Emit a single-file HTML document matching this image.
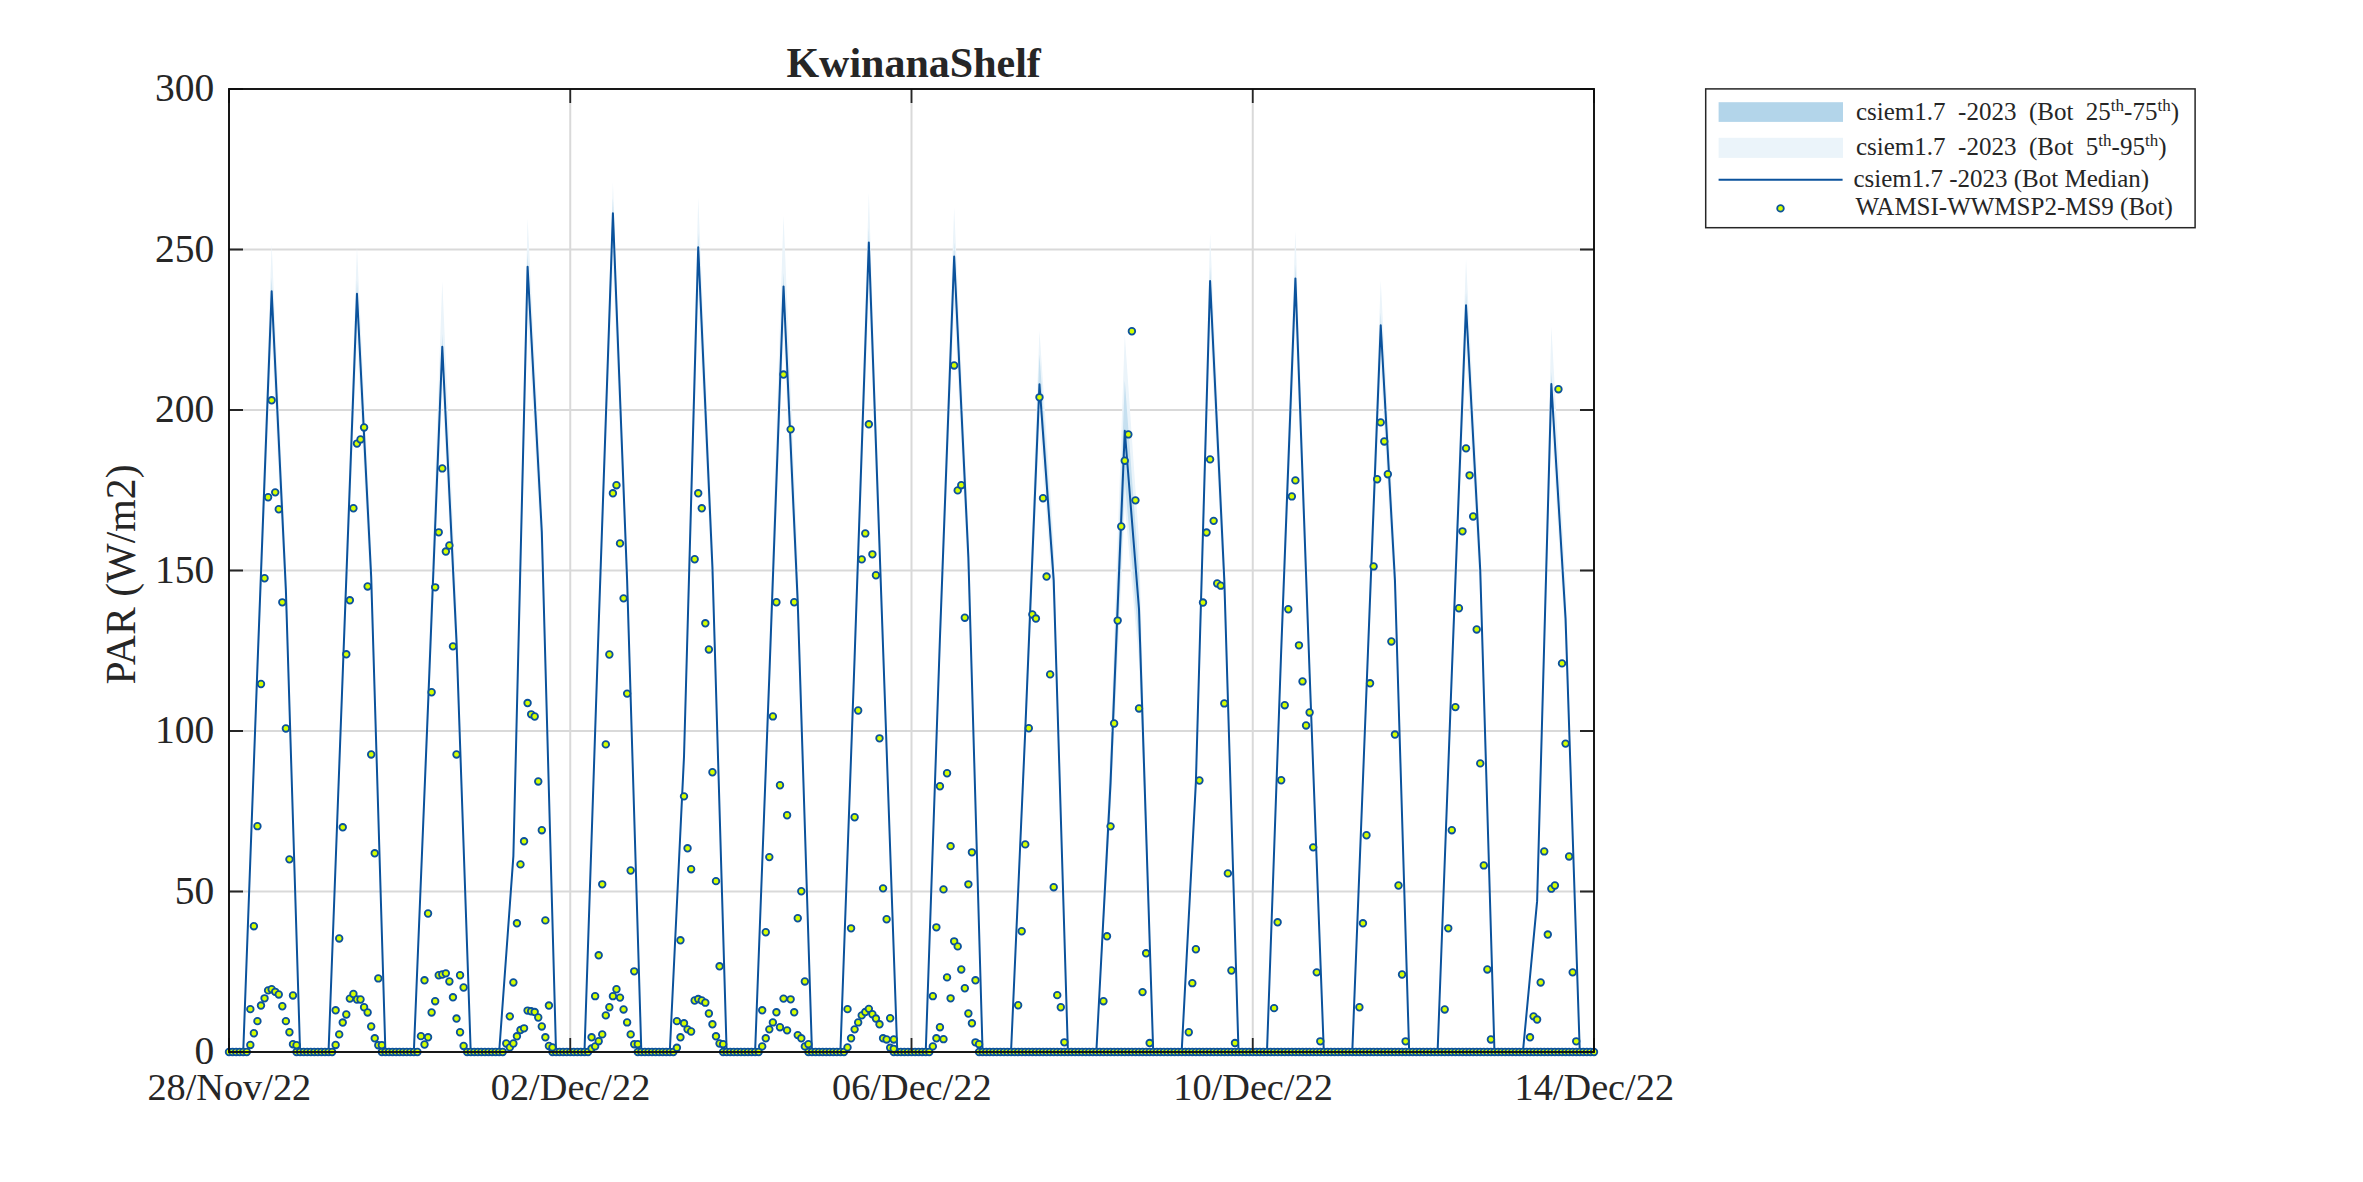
<!DOCTYPE html><html><head><meta charset="utf-8"><title>KwinanaShelf</title><style>html,body{margin:0;padding:0;background:#fff;width:2363px;height:1182px;overflow:hidden}svg{display:block}</style></head><body><svg width="2363" height="1182" viewBox="0 0 2363 1182">
<rect x="0" y="0" width="2363" height="1182" fill="#ffffff"/>
<path d="M229.0 891.50H1594.0M229.0 731.00H1594.0M229.0 570.50H1594.0M229.0 410.00H1594.0M229.0 249.50H1594.0M570.25 89.0V1052.0M911.50 89.0V1052.0M1252.75 89.0V1052.0" stroke="#d9d9d9" stroke-width="2" fill="none"/>
<polygon points="229.00,1052.00 243.22,1052.00 257.44,642.92 271.66,244.06 285.88,561.10 300.09,1052.00 314.31,1052.00 328.53,1052.00 342.75,649.74 356.97,246.79 371.19,547.47 385.41,1052.00 399.62,1052.00 413.84,1052.00 428.06,673.08 442.28,281.18 456.50,602.91 470.72,1052.00 484.94,1052.00 499.16,1052.00 513.38,844.05 527.59,218.15 541.81,499.74 556.03,1052.00 570.25,1052.00 584.47,1052.00 598.69,609.19 612.91,182.02 627.12,562.58 641.34,1052.00 655.56,1052.00 669.78,1052.00 684.00,738.37 698.22,197.36 712.44,537.24 726.66,1052.00 740.88,1052.00 755.09,1052.00 769.31,641.50 783.53,215.22 797.75,560.81 811.97,1052.00 826.19,1052.00 840.41,1052.00 854.62,632.69 868.84,192.25 883.06,622.46 897.28,1052.00 911.50,1052.00 925.72,1052.00 939.94,612.24 954.16,207.24 968.38,527.01 982.59,1052.00 996.81,1052.00 1011.03,1052.00 1025.25,705.13 1039.47,330.50 1053.69,542.10 1067.91,1052.00 1082.12,1052.00 1096.34,1052.00 1110.56,740.57 1124.78,334.59 1139.00,540.36 1153.22,1052.00 1167.44,1052.00 1181.66,1052.00 1195.88,765.64 1210.09,233.15 1224.31,550.87 1238.53,1052.00 1252.75,1052.00 1266.97,1052.00 1281.19,625.87 1295.41,230.43 1309.62,649.74 1323.84,1052.00 1338.06,1052.00 1352.28,1052.00 1366.50,666.78 1380.72,280.20 1394.94,550.87 1409.16,1052.00 1423.38,1052.00 1437.59,1052.00 1451.81,649.74 1466.03,259.06 1480.25,540.65 1494.47,1052.00 1508.69,1052.00 1522.91,1052.00 1537.12,888.03 1551.34,326.02 1565.56,581.04 1579.78,1052.00 1594.00,1052.00 1594.00,1052.00 1579.78,1052.00 1565.56,644.65 1551.34,424.08 1537.12,910.18 1522.91,1052.00 1508.69,1052.00 1494.47,1052.00 1480.25,599.39 1466.03,350.15 1451.81,695.95 1437.59,1052.00 1423.38,1052.00 1409.16,1052.00 1394.94,608.44 1380.72,368.86 1366.50,711.03 1352.28,1052.00 1338.06,1052.00 1323.84,1052.00 1309.62,695.95 1295.41,324.81 1281.19,674.83 1266.97,1052.00 1252.75,1052.00 1238.53,1052.00 1224.31,608.44 1210.09,327.22 1195.88,798.54 1181.66,1052.00 1167.44,1052.00 1153.22,1052.00 1139.00,662.18 1124.78,505.40 1110.56,814.72 1096.34,1052.00 1082.12,1052.00 1067.91,1052.00 1053.69,608.44 1039.47,424.38 1025.25,750.26 1011.03,1052.00 996.81,1052.00 982.59,1052.00 968.38,587.32 954.16,304.29 939.94,662.76 925.72,1052.00 911.50,1052.00 897.28,1052.00 883.06,671.81 868.84,291.01 854.62,680.86 840.41,1052.00 826.19,1052.00 811.97,1052.00 797.75,629.56 783.53,332.35 769.31,698.96 755.09,1052.00 740.88,1052.00 726.66,1052.00 712.44,596.37 698.22,295.54 684.00,774.40 669.78,1052.00 655.56,1052.00 641.34,1052.00 627.12,608.44 612.91,263.55 598.69,650.69 584.47,1052.00 570.25,1052.00 556.03,1052.00 541.81,563.18 527.59,313.94 513.38,867.94 499.16,1052.00 484.94,1052.00 470.72,1052.00 456.50,665.77 442.28,389.08 428.06,726.12 413.84,1052.00 399.62,1052.00 385.41,1052.00 371.19,605.42 356.97,339.29 342.75,695.95 328.53,1052.00 314.31,1052.00 300.09,1052.00 285.88,617.49 271.66,336.88 257.44,689.91 243.22,1052.00 229.00,1052.00" fill="#ebf4fa" stroke="none"/>
<polygon points="229.00,1052.00 243.22,1052.00 257.44,659.87 271.66,277.54 285.88,581.44 300.09,1052.00 314.31,1052.00 328.53,1052.00 342.75,666.40 356.97,280.15 371.19,568.37 385.41,1052.00 399.62,1052.00 413.84,1052.00 428.06,699.08 442.28,334.07 456.50,633.72 470.72,1052.00 484.94,1052.00 499.16,1052.00 513.38,852.67 527.59,252.70 541.81,522.62 556.03,1052.00 570.25,1052.00 584.47,1052.00 598.69,617.39 612.91,198.13 627.12,571.64 641.34,1052.00 655.56,1052.00 669.78,1052.00 684.00,751.36 698.22,232.77 712.44,558.57 726.66,1052.00 740.88,1052.00 755.09,1052.00 769.31,669.67 783.53,272.63 797.75,594.51 811.97,1052.00 826.19,1052.00 840.41,1052.00 854.62,650.06 868.84,227.87 883.06,640.26 897.28,1052.00 911.50,1052.00 925.72,1052.00 939.94,630.46 954.16,242.24 968.38,548.76 982.59,1052.00 996.81,1052.00 1011.03,1052.00 1025.25,716.56 1039.47,354.27 1053.69,558.90 1067.91,1052.00 1082.12,1052.00 1096.34,1052.00 1110.56,760.52 1124.78,380.55 1139.00,573.14 1153.22,1052.00 1167.44,1052.00 1181.66,1052.00 1195.88,777.51 1210.09,267.08 1224.31,571.64 1238.53,1052.00 1252.75,1052.00 1266.97,1052.00 1281.19,643.53 1295.41,264.47 1309.62,666.40 1323.84,1052.00 1338.06,1052.00 1352.28,1052.00 1366.50,682.74 1380.72,312.17 1394.94,571.64 1409.16,1052.00 1423.38,1052.00 1437.59,1052.00 1451.81,666.40 1466.03,291.91 1480.25,561.83 1494.47,1052.00 1508.69,1052.00 1522.91,1052.00 1537.12,898.41 1551.34,371.97 1565.56,610.85 1579.78,1052.00 1594.00,1052.00 1594.00,1052.00 1579.78,1052.00 1565.56,627.32 1551.34,397.36 1537.12,904.15 1522.91,1052.00 1508.69,1052.00 1494.47,1052.00 1480.25,580.13 1466.03,320.29 1451.81,680.80 1437.59,1052.00 1423.38,1052.00 1409.16,1052.00 1394.94,589.57 1380.72,339.79 1366.50,696.52 1352.28,1052.00 1338.06,1052.00 1323.84,1052.00 1309.62,680.80 1295.41,293.86 1281.19,658.77 1266.97,1052.00 1252.75,1052.00 1238.53,1052.00 1224.31,589.57 1210.09,296.38 1195.88,787.75 1181.66,1052.00 1167.44,1052.00 1153.22,1052.00 1139.00,644.46 1124.78,480.56 1110.56,803.93 1096.34,1052.00 1082.12,1052.00 1067.91,1052.00 1053.69,589.57 1039.47,397.67 1025.25,737.42 1011.03,1052.00 996.81,1052.00 982.59,1052.00 968.38,567.55 954.16,272.47 939.94,646.19 925.72,1052.00 911.50,1052.00 897.28,1052.00 883.06,655.63 868.84,258.63 854.62,665.07 840.41,1052.00 826.19,1052.00 811.97,1052.00 797.75,611.59 783.53,301.73 769.31,683.94 755.09,1052.00 740.88,1052.00 726.66,1052.00 712.44,576.98 698.22,263.35 684.00,762.59 669.78,1052.00 655.56,1052.00 641.34,1052.00 627.12,589.57 612.91,230.00 598.69,633.61 584.47,1052.00 570.25,1052.00 556.03,1052.00 541.81,542.38 527.59,282.54 513.38,860.11 499.16,1052.00 484.94,1052.00 470.72,1052.00 456.50,649.34 442.28,360.87 428.06,712.25 413.84,1052.00 399.62,1052.00 385.41,1052.00 371.19,586.42 356.97,308.96 342.75,680.80 328.53,1052.00 314.31,1052.00 300.09,1052.00 285.88,599.00 271.66,306.45 257.44,674.50 243.22,1052.00 229.00,1052.00" fill="#c6e0f0" stroke="none"/>
<polyline points="229.00,1052.00 243.22,1052.00 257.44,666.80 271.66,291.23 285.88,589.76 300.09,1052.00 314.31,1052.00 328.53,1052.00 342.75,673.22 356.97,293.80 371.19,576.92 385.41,1052.00 399.62,1052.00 413.84,1052.00 428.06,705.32 442.28,346.76 456.50,641.12 470.72,1052.00 484.94,1052.00 499.16,1052.00 513.38,856.19 527.59,266.83 541.81,531.98 556.03,1052.00 570.25,1052.00 584.47,1052.00 598.69,625.07 612.91,213.23 627.12,580.13 641.34,1052.00 655.56,1052.00 669.78,1052.00 684.00,756.68 698.22,247.25 712.44,567.29 726.66,1052.00 740.88,1052.00 755.09,1052.00 769.31,676.43 783.53,286.41 797.75,602.60 811.97,1052.00 826.19,1052.00 840.41,1052.00 854.62,657.17 868.84,242.44 883.06,647.54 897.28,1052.00 911.50,1052.00 925.72,1052.00 939.94,637.91 954.16,256.56 968.38,557.66 982.59,1052.00 996.81,1052.00 1011.03,1052.00 1025.25,731.00 1039.47,384.32 1053.69,580.13 1067.91,1052.00 1082.12,1052.00 1096.34,1052.00 1110.56,782.36 1124.78,430.87 1139.00,609.02 1153.22,1052.00 1167.44,1052.00 1181.66,1052.00 1195.88,782.36 1210.09,280.96 1224.31,580.13 1238.53,1052.00 1252.75,1052.00 1266.97,1052.00 1281.19,650.75 1295.41,278.39 1309.62,673.22 1323.84,1052.00 1338.06,1052.00 1352.28,1052.00 1366.50,689.27 1380.72,325.26 1394.94,580.13 1409.16,1052.00 1423.38,1052.00 1437.59,1052.00 1451.81,673.22 1466.03,305.35 1480.25,570.50 1494.47,1052.00 1508.69,1052.00 1522.91,1052.00 1537.12,901.13 1551.34,384.00 1565.56,618.65 1579.78,1052.00 1594.00,1052.00" fill="none" stroke="#0b529c" stroke-width="2.0" stroke-linejoin="round"/>
<g fill="#d4ff00" stroke="#0b529c" stroke-width="1.8">
<circle cx="229.00" cy="1052.0" r="3.3"/><circle cx="232.55" cy="1052.0" r="3.3"/><circle cx="236.11" cy="1052.0" r="3.3"/><circle cx="239.66" cy="1052.0" r="3.3"/><circle cx="243.22" cy="1052.0" r="3.3"/><circle cx="246.77" cy="1052.0" r="3.3"/><circle cx="296.54" cy="1052.0" r="3.3"/><circle cx="300.09" cy="1052.0" r="3.3"/><circle cx="303.65" cy="1052.0" r="3.3"/><circle cx="307.20" cy="1052.0" r="3.3"/><circle cx="310.76" cy="1052.0" r="3.3"/><circle cx="314.31" cy="1052.0" r="3.3"/><circle cx="317.87" cy="1052.0" r="3.3"/><circle cx="321.42" cy="1052.0" r="3.3"/><circle cx="324.98" cy="1052.0" r="3.3"/><circle cx="328.53" cy="1052.0" r="3.3"/><circle cx="332.09" cy="1052.0" r="3.3"/><circle cx="381.85" cy="1052.0" r="3.3"/><circle cx="385.41" cy="1052.0" r="3.3"/><circle cx="388.96" cy="1052.0" r="3.3"/><circle cx="392.52" cy="1052.0" r="3.3"/><circle cx="396.07" cy="1052.0" r="3.3"/><circle cx="399.62" cy="1052.0" r="3.3"/><circle cx="403.18" cy="1052.0" r="3.3"/><circle cx="406.73" cy="1052.0" r="3.3"/><circle cx="410.29" cy="1052.0" r="3.3"/><circle cx="413.84" cy="1052.0" r="3.3"/><circle cx="417.40" cy="1052.0" r="3.3"/><circle cx="467.16" cy="1052.0" r="3.3"/><circle cx="470.72" cy="1052.0" r="3.3"/><circle cx="474.27" cy="1052.0" r="3.3"/><circle cx="477.83" cy="1052.0" r="3.3"/><circle cx="481.38" cy="1052.0" r="3.3"/><circle cx="484.94" cy="1052.0" r="3.3"/><circle cx="488.49" cy="1052.0" r="3.3"/><circle cx="492.05" cy="1052.0" r="3.3"/><circle cx="495.60" cy="1052.0" r="3.3"/><circle cx="499.16" cy="1052.0" r="3.3"/><circle cx="502.71" cy="1052.0" r="3.3"/><circle cx="552.48" cy="1052.0" r="3.3"/><circle cx="556.03" cy="1052.0" r="3.3"/><circle cx="559.59" cy="1052.0" r="3.3"/><circle cx="563.14" cy="1052.0" r="3.3"/><circle cx="566.70" cy="1052.0" r="3.3"/><circle cx="570.25" cy="1052.0" r="3.3"/><circle cx="573.80" cy="1052.0" r="3.3"/><circle cx="577.36" cy="1052.0" r="3.3"/><circle cx="580.91" cy="1052.0" r="3.3"/><circle cx="584.47" cy="1052.0" r="3.3"/><circle cx="588.02" cy="1052.0" r="3.3"/><circle cx="637.79" cy="1052.0" r="3.3"/><circle cx="641.34" cy="1052.0" r="3.3"/><circle cx="644.90" cy="1052.0" r="3.3"/><circle cx="648.45" cy="1052.0" r="3.3"/><circle cx="652.01" cy="1052.0" r="3.3"/><circle cx="655.56" cy="1052.0" r="3.3"/><circle cx="659.12" cy="1052.0" r="3.3"/><circle cx="662.67" cy="1052.0" r="3.3"/><circle cx="666.23" cy="1052.0" r="3.3"/><circle cx="669.78" cy="1052.0" r="3.3"/><circle cx="673.34" cy="1052.0" r="3.3"/><circle cx="723.10" cy="1052.0" r="3.3"/><circle cx="726.66" cy="1052.0" r="3.3"/><circle cx="730.21" cy="1052.0" r="3.3"/><circle cx="733.77" cy="1052.0" r="3.3"/><circle cx="737.32" cy="1052.0" r="3.3"/><circle cx="740.88" cy="1052.0" r="3.3"/><circle cx="744.43" cy="1052.0" r="3.3"/><circle cx="747.98" cy="1052.0" r="3.3"/><circle cx="751.54" cy="1052.0" r="3.3"/><circle cx="755.09" cy="1052.0" r="3.3"/><circle cx="758.65" cy="1052.0" r="3.3"/><circle cx="808.41" cy="1052.0" r="3.3"/><circle cx="811.97" cy="1052.0" r="3.3"/><circle cx="815.52" cy="1052.0" r="3.3"/><circle cx="819.08" cy="1052.0" r="3.3"/><circle cx="822.63" cy="1052.0" r="3.3"/><circle cx="826.19" cy="1052.0" r="3.3"/><circle cx="829.74" cy="1052.0" r="3.3"/><circle cx="833.30" cy="1052.0" r="3.3"/><circle cx="836.85" cy="1052.0" r="3.3"/><circle cx="840.41" cy="1052.0" r="3.3"/><circle cx="843.96" cy="1052.0" r="3.3"/><circle cx="893.73" cy="1052.0" r="3.3"/><circle cx="897.28" cy="1052.0" r="3.3"/><circle cx="900.84" cy="1052.0" r="3.3"/><circle cx="904.39" cy="1052.0" r="3.3"/><circle cx="907.95" cy="1052.0" r="3.3"/><circle cx="911.50" cy="1052.0" r="3.3"/><circle cx="915.05" cy="1052.0" r="3.3"/><circle cx="918.61" cy="1052.0" r="3.3"/><circle cx="922.16" cy="1052.0" r="3.3"/><circle cx="925.72" cy="1052.0" r="3.3"/><circle cx="929.27" cy="1052.0" r="3.3"/><circle cx="979.04" cy="1052.0" r="3.3"/><circle cx="982.59" cy="1052.0" r="3.3"/><circle cx="986.15" cy="1052.0" r="3.3"/><circle cx="989.70" cy="1052.0" r="3.3"/><circle cx="993.26" cy="1052.0" r="3.3"/><circle cx="996.81" cy="1052.0" r="3.3"/><circle cx="1000.37" cy="1052.0" r="3.3"/><circle cx="1003.92" cy="1052.0" r="3.3"/><circle cx="1007.48" cy="1052.0" r="3.3"/><circle cx="1011.03" cy="1052.0" r="3.3"/><circle cx="1014.59" cy="1052.0" r="3.3"/><circle cx="1018.14" cy="1052.0" r="3.3"/><circle cx="1021.70" cy="1052.0" r="3.3"/><circle cx="1025.25" cy="1052.0" r="3.3"/><circle cx="1028.80" cy="1052.0" r="3.3"/><circle cx="1032.36" cy="1052.0" r="3.3"/><circle cx="1035.91" cy="1052.0" r="3.3"/><circle cx="1039.47" cy="1052.0" r="3.3"/><circle cx="1043.02" cy="1052.0" r="3.3"/><circle cx="1046.58" cy="1052.0" r="3.3"/><circle cx="1050.13" cy="1052.0" r="3.3"/><circle cx="1053.69" cy="1052.0" r="3.3"/><circle cx="1057.24" cy="1052.0" r="3.3"/><circle cx="1060.80" cy="1052.0" r="3.3"/><circle cx="1064.35" cy="1052.0" r="3.3"/><circle cx="1067.91" cy="1052.0" r="3.3"/><circle cx="1071.46" cy="1052.0" r="3.3"/><circle cx="1075.02" cy="1052.0" r="3.3"/><circle cx="1078.57" cy="1052.0" r="3.3"/><circle cx="1082.12" cy="1052.0" r="3.3"/><circle cx="1085.68" cy="1052.0" r="3.3"/><circle cx="1089.23" cy="1052.0" r="3.3"/><circle cx="1092.79" cy="1052.0" r="3.3"/><circle cx="1096.34" cy="1052.0" r="3.3"/><circle cx="1099.90" cy="1052.0" r="3.3"/><circle cx="1103.45" cy="1052.0" r="3.3"/><circle cx="1107.01" cy="1052.0" r="3.3"/><circle cx="1110.56" cy="1052.0" r="3.3"/><circle cx="1114.12" cy="1052.0" r="3.3"/><circle cx="1117.67" cy="1052.0" r="3.3"/><circle cx="1121.23" cy="1052.0" r="3.3"/><circle cx="1124.78" cy="1052.0" r="3.3"/><circle cx="1128.34" cy="1052.0" r="3.3"/><circle cx="1131.89" cy="1052.0" r="3.3"/><circle cx="1135.45" cy="1052.0" r="3.3"/><circle cx="1139.00" cy="1052.0" r="3.3"/><circle cx="1142.55" cy="1052.0" r="3.3"/><circle cx="1146.11" cy="1052.0" r="3.3"/><circle cx="1149.66" cy="1052.0" r="3.3"/><circle cx="1153.22" cy="1052.0" r="3.3"/><circle cx="1156.77" cy="1052.0" r="3.3"/><circle cx="1160.33" cy="1052.0" r="3.3"/><circle cx="1163.88" cy="1052.0" r="3.3"/><circle cx="1167.44" cy="1052.0" r="3.3"/><circle cx="1170.99" cy="1052.0" r="3.3"/><circle cx="1174.55" cy="1052.0" r="3.3"/><circle cx="1178.10" cy="1052.0" r="3.3"/><circle cx="1181.66" cy="1052.0" r="3.3"/><circle cx="1185.21" cy="1052.0" r="3.3"/><circle cx="1188.77" cy="1052.0" r="3.3"/><circle cx="1192.32" cy="1052.0" r="3.3"/><circle cx="1195.88" cy="1052.0" r="3.3"/><circle cx="1199.43" cy="1052.0" r="3.3"/><circle cx="1202.98" cy="1052.0" r="3.3"/><circle cx="1206.54" cy="1052.0" r="3.3"/><circle cx="1210.09" cy="1052.0" r="3.3"/><circle cx="1213.65" cy="1052.0" r="3.3"/><circle cx="1217.20" cy="1052.0" r="3.3"/><circle cx="1220.76" cy="1052.0" r="3.3"/><circle cx="1224.31" cy="1052.0" r="3.3"/><circle cx="1227.87" cy="1052.0" r="3.3"/><circle cx="1231.42" cy="1052.0" r="3.3"/><circle cx="1234.98" cy="1052.0" r="3.3"/><circle cx="1238.53" cy="1052.0" r="3.3"/><circle cx="1242.09" cy="1052.0" r="3.3"/><circle cx="1245.64" cy="1052.0" r="3.3"/><circle cx="1249.20" cy="1052.0" r="3.3"/><circle cx="1252.75" cy="1052.0" r="3.3"/><circle cx="1256.30" cy="1052.0" r="3.3"/><circle cx="1259.86" cy="1052.0" r="3.3"/><circle cx="1263.41" cy="1052.0" r="3.3"/><circle cx="1266.97" cy="1052.0" r="3.3"/><circle cx="1270.52" cy="1052.0" r="3.3"/><circle cx="1274.08" cy="1052.0" r="3.3"/><circle cx="1277.63" cy="1052.0" r="3.3"/><circle cx="1281.19" cy="1052.0" r="3.3"/><circle cx="1284.74" cy="1052.0" r="3.3"/><circle cx="1288.30" cy="1052.0" r="3.3"/><circle cx="1291.85" cy="1052.0" r="3.3"/><circle cx="1295.41" cy="1052.0" r="3.3"/><circle cx="1298.96" cy="1052.0" r="3.3"/><circle cx="1302.52" cy="1052.0" r="3.3"/><circle cx="1306.07" cy="1052.0" r="3.3"/><circle cx="1309.62" cy="1052.0" r="3.3"/><circle cx="1313.18" cy="1052.0" r="3.3"/><circle cx="1316.73" cy="1052.0" r="3.3"/><circle cx="1320.29" cy="1052.0" r="3.3"/><circle cx="1323.84" cy="1052.0" r="3.3"/><circle cx="1327.40" cy="1052.0" r="3.3"/><circle cx="1330.95" cy="1052.0" r="3.3"/><circle cx="1334.51" cy="1052.0" r="3.3"/><circle cx="1338.06" cy="1052.0" r="3.3"/><circle cx="1341.62" cy="1052.0" r="3.3"/><circle cx="1345.17" cy="1052.0" r="3.3"/><circle cx="1348.73" cy="1052.0" r="3.3"/><circle cx="1352.28" cy="1052.0" r="3.3"/><circle cx="1355.84" cy="1052.0" r="3.3"/><circle cx="1359.39" cy="1052.0" r="3.3"/><circle cx="1362.95" cy="1052.0" r="3.3"/><circle cx="1366.50" cy="1052.0" r="3.3"/><circle cx="1370.05" cy="1052.0" r="3.3"/><circle cx="1373.61" cy="1052.0" r="3.3"/><circle cx="1377.16" cy="1052.0" r="3.3"/><circle cx="1380.72" cy="1052.0" r="3.3"/><circle cx="1384.27" cy="1052.0" r="3.3"/><circle cx="1387.83" cy="1052.0" r="3.3"/><circle cx="1391.38" cy="1052.0" r="3.3"/><circle cx="1394.94" cy="1052.0" r="3.3"/><circle cx="1398.49" cy="1052.0" r="3.3"/><circle cx="1402.05" cy="1052.0" r="3.3"/><circle cx="1405.60" cy="1052.0" r="3.3"/><circle cx="1409.16" cy="1052.0" r="3.3"/><circle cx="1412.71" cy="1052.0" r="3.3"/><circle cx="1416.27" cy="1052.0" r="3.3"/><circle cx="1419.82" cy="1052.0" r="3.3"/><circle cx="1423.38" cy="1052.0" r="3.3"/><circle cx="1426.93" cy="1052.0" r="3.3"/><circle cx="1430.48" cy="1052.0" r="3.3"/><circle cx="1434.04" cy="1052.0" r="3.3"/><circle cx="1437.59" cy="1052.0" r="3.3"/><circle cx="1441.15" cy="1052.0" r="3.3"/><circle cx="1444.70" cy="1052.0" r="3.3"/><circle cx="1448.26" cy="1052.0" r="3.3"/><circle cx="1451.81" cy="1052.0" r="3.3"/><circle cx="1455.37" cy="1052.0" r="3.3"/><circle cx="1458.92" cy="1052.0" r="3.3"/><circle cx="1462.48" cy="1052.0" r="3.3"/><circle cx="1466.03" cy="1052.0" r="3.3"/><circle cx="1469.59" cy="1052.0" r="3.3"/><circle cx="1473.14" cy="1052.0" r="3.3"/><circle cx="1476.70" cy="1052.0" r="3.3"/><circle cx="1480.25" cy="1052.0" r="3.3"/><circle cx="1483.80" cy="1052.0" r="3.3"/><circle cx="1487.36" cy="1052.0" r="3.3"/><circle cx="1490.91" cy="1052.0" r="3.3"/><circle cx="1494.47" cy="1052.0" r="3.3"/><circle cx="1498.02" cy="1052.0" r="3.3"/><circle cx="1501.58" cy="1052.0" r="3.3"/><circle cx="1505.13" cy="1052.0" r="3.3"/><circle cx="1508.69" cy="1052.0" r="3.3"/><circle cx="1512.24" cy="1052.0" r="3.3"/><circle cx="1515.80" cy="1052.0" r="3.3"/><circle cx="1519.35" cy="1052.0" r="3.3"/><circle cx="1522.91" cy="1052.0" r="3.3"/><circle cx="1526.46" cy="1052.0" r="3.3"/><circle cx="1530.02" cy="1052.0" r="3.3"/><circle cx="1533.57" cy="1052.0" r="3.3"/><circle cx="1537.12" cy="1052.0" r="3.3"/><circle cx="1540.68" cy="1052.0" r="3.3"/><circle cx="1544.23" cy="1052.0" r="3.3"/><circle cx="1547.79" cy="1052.0" r="3.3"/><circle cx="1551.34" cy="1052.0" r="3.3"/><circle cx="1554.90" cy="1052.0" r="3.3"/><circle cx="1558.45" cy="1052.0" r="3.3"/><circle cx="1562.01" cy="1052.0" r="3.3"/><circle cx="1565.56" cy="1052.0" r="3.3"/><circle cx="1569.12" cy="1052.0" r="3.3"/><circle cx="1572.67" cy="1052.0" r="3.3"/><circle cx="1576.23" cy="1052.0" r="3.3"/><circle cx="1579.78" cy="1052.0" r="3.3"/><circle cx="1583.34" cy="1052.0" r="3.3"/><circle cx="1586.89" cy="1052.0" r="3.3"/><circle cx="1590.45" cy="1052.0" r="3.3"/><circle cx="1594.00" cy="1052.0" r="3.3"/><circle cx="250.33" cy="1009.15" r="3.3"/><circle cx="250.33" cy="1044.94" r="3.3"/><circle cx="253.88" cy="926.18" r="3.3"/><circle cx="253.88" cy="1033.25" r="3.3"/><circle cx="257.44" cy="826.16" r="3.3"/><circle cx="257.44" cy="1021.13" r="3.3"/><circle cx="260.99" cy="684.01" r="3.3"/><circle cx="260.99" cy="1005.54" r="3.3"/><circle cx="264.55" cy="578.24" r="3.3"/><circle cx="264.55" cy="998.33" r="3.3"/><circle cx="268.10" cy="497.27" r="3.3"/><circle cx="268.10" cy="990.39" r="3.3"/><circle cx="271.66" cy="400.30" r="3.3"/><circle cx="271.66" cy="989.24" r="3.3"/><circle cx="275.21" cy="492.37" r="3.3"/><circle cx="275.21" cy="991.83" r="3.3"/><circle cx="278.77" cy="509.25" r="3.3"/><circle cx="278.77" cy="994.43" r="3.3"/><circle cx="282.32" cy="602.34" r="3.3"/><circle cx="282.32" cy="1006.26" r="3.3"/><circle cx="285.88" cy="728.47" r="3.3"/><circle cx="285.88" cy="1021.13" r="3.3"/><circle cx="289.43" cy="859.35" r="3.3"/><circle cx="289.43" cy="1032.24" r="3.3"/><circle cx="292.98" cy="995.44" r="3.3"/><circle cx="292.98" cy="1044.21" r="3.3"/><circle cx="296.54" cy="1045.22" r="3.3"/><circle cx="335.64" cy="1010.30" r="3.3"/><circle cx="335.64" cy="1044.94" r="3.3"/><circle cx="339.20" cy="938.44" r="3.3"/><circle cx="339.20" cy="1034.40" r="3.3"/><circle cx="342.75" cy="827.32" r="3.3"/><circle cx="342.75" cy="1022.57" r="3.3"/><circle cx="346.30" cy="654.29" r="3.3"/><circle cx="346.30" cy="1014.49" r="3.3"/><circle cx="349.86" cy="600.32" r="3.3"/><circle cx="349.86" cy="998.61" r="3.3"/><circle cx="353.41" cy="508.24" r="3.3"/><circle cx="353.41" cy="994.00" r="3.3"/><circle cx="356.97" cy="443.59" r="3.3"/><circle cx="356.97" cy="999.48" r="3.3"/><circle cx="360.52" cy="439.41" r="3.3"/><circle cx="360.52" cy="999.48" r="3.3"/><circle cx="364.08" cy="427.43" r="3.3"/><circle cx="364.08" cy="1007.27" r="3.3"/><circle cx="367.63" cy="586.46" r="3.3"/><circle cx="367.63" cy="1012.47" r="3.3"/><circle cx="371.19" cy="754.44" r="3.3"/><circle cx="371.19" cy="1026.46" r="3.3"/><circle cx="374.74" cy="853.29" r="3.3"/><circle cx="374.74" cy="1038.30" r="3.3"/><circle cx="378.30" cy="978.41" r="3.3"/><circle cx="378.30" cy="1045.22" r="3.3"/><circle cx="381.85" cy="1045.22" r="3.3"/><circle cx="420.95" cy="1036.13" r="3.3"/><circle cx="424.51" cy="980.29" r="3.3"/><circle cx="424.51" cy="1044.50" r="3.3"/><circle cx="428.06" cy="913.48" r="3.3"/><circle cx="428.06" cy="1037.29" r="3.3"/><circle cx="431.62" cy="692.24" r="3.3"/><circle cx="431.62" cy="1012.47" r="3.3"/><circle cx="435.17" cy="587.33" r="3.3"/><circle cx="435.17" cy="1001.21" r="3.3"/><circle cx="438.73" cy="532.34" r="3.3"/><circle cx="438.73" cy="975.24" r="3.3"/><circle cx="442.28" cy="468.41" r="3.3"/><circle cx="442.28" cy="974.52" r="3.3"/><circle cx="445.84" cy="551.54" r="3.3"/><circle cx="445.84" cy="973.36" r="3.3"/><circle cx="449.39" cy="545.48" r="3.3"/><circle cx="449.39" cy="981.44" r="3.3"/><circle cx="452.95" cy="646.35" r="3.3"/><circle cx="452.95" cy="997.32" r="3.3"/><circle cx="456.50" cy="754.44" r="3.3"/><circle cx="456.50" cy="1018.53" r="3.3"/><circle cx="460.05" cy="975.24" r="3.3"/><circle cx="460.05" cy="1032.24" r="3.3"/><circle cx="463.61" cy="987.50" r="3.3"/><circle cx="463.61" cy="1045.95" r="3.3"/><circle cx="506.27" cy="1043.49" r="3.3"/><circle cx="509.82" cy="1016.36" r="3.3"/><circle cx="509.82" cy="1047.39" r="3.3"/><circle cx="513.38" cy="982.45" r="3.3"/><circle cx="513.38" cy="1043.49" r="3.3"/><circle cx="516.93" cy="923.29" r="3.3"/><circle cx="516.93" cy="1036.28" r="3.3"/><circle cx="520.48" cy="864.40" r="3.3"/><circle cx="520.48" cy="1030.07" r="3.3"/><circle cx="524.04" cy="841.31" r="3.3"/><circle cx="524.04" cy="1028.34" r="3.3"/><circle cx="527.59" cy="703.06" r="3.3"/><circle cx="527.59" cy="1010.59" r="3.3"/><circle cx="531.15" cy="714.33" r="3.3"/><circle cx="531.15" cy="1011.31" r="3.3"/><circle cx="534.70" cy="716.49" r="3.3"/><circle cx="534.70" cy="1012.03" r="3.3"/><circle cx="538.26" cy="781.43" r="3.3"/><circle cx="538.26" cy="1017.52" r="3.3"/><circle cx="541.81" cy="830.20" r="3.3"/><circle cx="541.81" cy="1026.46" r="3.3"/><circle cx="545.37" cy="920.40" r="3.3"/><circle cx="545.37" cy="1037.29" r="3.3"/><circle cx="548.92" cy="1005.54" r="3.3"/><circle cx="548.92" cy="1045.95" r="3.3"/><circle cx="552.48" cy="1047.39" r="3.3"/><circle cx="591.58" cy="1037.29" r="3.3"/><circle cx="591.58" cy="1048.54" r="3.3"/><circle cx="595.13" cy="996.16" r="3.3"/><circle cx="595.13" cy="1046.38" r="3.3"/><circle cx="598.69" cy="955.32" r="3.3"/><circle cx="598.69" cy="1041.18" r="3.3"/><circle cx="602.24" cy="884.33" r="3.3"/><circle cx="602.24" cy="1034.40" r="3.3"/><circle cx="605.80" cy="744.40" r="3.3"/><circle cx="605.80" cy="1015.35" r="3.3"/><circle cx="609.35" cy="654.49" r="3.3"/><circle cx="609.35" cy="1007.27" r="3.3"/><circle cx="612.91" cy="493.29" r="3.3"/><circle cx="612.91" cy="996.16" r="3.3"/><circle cx="616.46" cy="485.21" r="3.3"/><circle cx="616.46" cy="989.24" r="3.3"/><circle cx="620.02" cy="543.38" r="3.3"/><circle cx="620.02" cy="997.60" r="3.3"/><circle cx="623.57" cy="598.35" r="3.3"/><circle cx="623.57" cy="1009.44" r="3.3"/><circle cx="627.12" cy="693.61" r="3.3"/><circle cx="627.12" cy="1022.42" r="3.3"/><circle cx="630.68" cy="870.50" r="3.3"/><circle cx="630.68" cy="1034.40" r="3.3"/><circle cx="634.23" cy="971.34" r="3.3"/><circle cx="634.23" cy="1044.21" r="3.3"/><circle cx="637.79" cy="1044.21" r="3.3"/><circle cx="676.89" cy="1021.13" r="3.3"/><circle cx="676.89" cy="1047.82" r="3.3"/><circle cx="680.45" cy="940.32" r="3.3"/><circle cx="680.45" cy="1037.29" r="3.3"/><circle cx="684.00" cy="796.35" r="3.3"/><circle cx="684.00" cy="1023.29" r="3.3"/><circle cx="687.55" cy="848.30" r="3.3"/><circle cx="687.55" cy="1029.35" r="3.3"/><circle cx="691.11" cy="869.20" r="3.3"/><circle cx="691.11" cy="1031.52" r="3.3"/><circle cx="694.66" cy="559.25" r="3.3"/><circle cx="694.66" cy="1000.49" r="3.3"/><circle cx="698.22" cy="493.29" r="3.3"/><circle cx="698.22" cy="999.05" r="3.3"/><circle cx="701.77" cy="508.30" r="3.3"/><circle cx="701.77" cy="1000.49" r="3.3"/><circle cx="705.33" cy="623.32" r="3.3"/><circle cx="705.33" cy="1002.66" r="3.3"/><circle cx="708.88" cy="649.44" r="3.3"/><circle cx="708.88" cy="1013.48" r="3.3"/><circle cx="712.44" cy="772.25" r="3.3"/><circle cx="712.44" cy="1024.30" r="3.3"/><circle cx="715.99" cy="881.15" r="3.3"/><circle cx="715.99" cy="1036.28" r="3.3"/><circle cx="719.55" cy="966.29" r="3.3"/><circle cx="719.55" cy="1043.49" r="3.3"/><circle cx="723.10" cy="1044.21" r="3.3"/><circle cx="762.20" cy="1010.30" r="3.3"/><circle cx="762.20" cy="1046.38" r="3.3"/><circle cx="765.76" cy="932.24" r="3.3"/><circle cx="765.76" cy="1038.30" r="3.3"/><circle cx="769.31" cy="857.10" r="3.3"/><circle cx="769.31" cy="1029.35" r="3.3"/><circle cx="772.87" cy="716.41" r="3.3"/><circle cx="772.87" cy="1022.42" r="3.3"/><circle cx="776.42" cy="602.25" r="3.3"/><circle cx="776.42" cy="1012.32" r="3.3"/><circle cx="779.98" cy="785.24" r="3.3"/><circle cx="779.98" cy="1027.19" r="3.3"/><circle cx="783.53" cy="374.53" r="3.3"/><circle cx="783.53" cy="998.61" r="3.3"/><circle cx="787.09" cy="815.25" r="3.3"/><circle cx="787.09" cy="1030.36" r="3.3"/><circle cx="790.64" cy="429.37" r="3.3"/><circle cx="790.64" cy="999.34" r="3.3"/><circle cx="794.20" cy="602.25" r="3.3"/><circle cx="794.20" cy="1012.32" r="3.3"/><circle cx="797.75" cy="918.24" r="3.3"/><circle cx="797.75" cy="1035.12" r="3.3"/><circle cx="801.30" cy="891.26" r="3.3"/><circle cx="801.30" cy="1038.30" r="3.3"/><circle cx="804.86" cy="981.44" r="3.3"/><circle cx="804.86" cy="1046.38" r="3.3"/><circle cx="808.41" cy="1044.21" r="3.3"/><circle cx="847.52" cy="1009.15" r="3.3"/><circle cx="847.52" cy="1047.39" r="3.3"/><circle cx="851.07" cy="928.34" r="3.3"/><circle cx="851.07" cy="1038.30" r="3.3"/><circle cx="854.62" cy="817.27" r="3.3"/><circle cx="854.62" cy="1029.35" r="3.3"/><circle cx="858.18" cy="710.49" r="3.3"/><circle cx="858.18" cy="1022.42" r="3.3"/><circle cx="861.73" cy="559.39" r="3.3"/><circle cx="861.73" cy="1015.35" r="3.3"/><circle cx="865.29" cy="533.42" r="3.3"/><circle cx="865.29" cy="1012.03" r="3.3"/><circle cx="868.84" cy="424.31" r="3.3"/><circle cx="868.84" cy="1008.86" r="3.3"/><circle cx="872.40" cy="554.34" r="3.3"/><circle cx="872.40" cy="1014.20" r="3.3"/><circle cx="875.95" cy="575.27" r="3.3"/><circle cx="875.95" cy="1018.53" r="3.3"/><circle cx="879.51" cy="738.34" r="3.3"/><circle cx="879.51" cy="1024.30" r="3.3"/><circle cx="883.06" cy="888.37" r="3.3"/><circle cx="883.06" cy="1038.30" r="3.3"/><circle cx="886.62" cy="919.25" r="3.3"/><circle cx="886.62" cy="1039.45" r="3.3"/><circle cx="890.17" cy="1018.24" r="3.3"/><circle cx="890.17" cy="1047.82" r="3.3"/><circle cx="893.73" cy="1039.45" r="3.3"/><circle cx="893.73" cy="1048.83" r="3.3"/><circle cx="932.83" cy="996.16" r="3.3"/><circle cx="932.83" cy="1046.38" r="3.3"/><circle cx="936.38" cy="927.33" r="3.3"/><circle cx="936.38" cy="1038.30" r="3.3"/><circle cx="939.94" cy="786.25" r="3.3"/><circle cx="939.94" cy="1027.19" r="3.3"/><circle cx="943.49" cy="889.38" r="3.3"/><circle cx="943.49" cy="1039.16" r="3.3"/><circle cx="947.05" cy="773.26" r="3.3"/><circle cx="947.05" cy="977.40" r="3.3"/><circle cx="950.60" cy="846.13" r="3.3"/><circle cx="950.60" cy="998.33" r="3.3"/><circle cx="954.16" cy="365.44" r="3.3"/><circle cx="954.16" cy="941.33" r="3.3"/><circle cx="957.71" cy="490.40" r="3.3"/><circle cx="957.71" cy="946.38" r="3.3"/><circle cx="961.27" cy="485.21" r="3.3"/><circle cx="961.27" cy="969.47" r="3.3"/><circle cx="964.82" cy="617.69" r="3.3"/><circle cx="964.82" cy="988.23" r="3.3"/><circle cx="968.38" cy="884.33" r="3.3"/><circle cx="968.38" cy="1013.48" r="3.3"/><circle cx="971.93" cy="852.34" r="3.3"/><circle cx="971.93" cy="1023.29" r="3.3"/><circle cx="975.48" cy="980.29" r="3.3"/><circle cx="975.48" cy="1042.34" r="3.3"/><circle cx="979.04" cy="1044.21" r="3.3"/><circle cx="1018.14" cy="1005.25" r="3.3"/><circle cx="1021.70" cy="931.23" r="3.3"/><circle cx="1025.25" cy="844.40" r="3.3"/><circle cx="1028.80" cy="728.24" r="3.3"/><circle cx="1032.36" cy="614.52" r="3.3"/><circle cx="1035.91" cy="618.56" r="3.3"/><circle cx="1039.47" cy="397.33" r="3.3"/><circle cx="1043.02" cy="498.20" r="3.3"/><circle cx="1046.58" cy="576.57" r="3.3"/><circle cx="1050.13" cy="674.40" r="3.3"/><circle cx="1053.69" cy="887.22" r="3.3"/><circle cx="1057.24" cy="995.15" r="3.3"/><circle cx="1060.80" cy="1007.27" r="3.3"/><circle cx="1064.35" cy="1042.34" r="3.3"/><circle cx="1103.45" cy="1001.21" r="3.3"/><circle cx="1107.01" cy="936.28" r="3.3"/><circle cx="1110.56" cy="826.36" r="3.3"/><circle cx="1114.12" cy="723.48" r="3.3"/><circle cx="1117.67" cy="620.58" r="3.3"/><circle cx="1121.23" cy="526.49" r="3.3"/><circle cx="1124.78" cy="460.68" r="3.3"/><circle cx="1128.34" cy="434.42" r="3.3"/><circle cx="1131.89" cy="331.23" r="3.3"/><circle cx="1135.45" cy="500.36" r="3.3"/><circle cx="1139.00" cy="708.47" r="3.3"/><circle cx="1142.55" cy="992.12" r="3.3"/><circle cx="1146.11" cy="953.30" r="3.3"/><circle cx="1149.66" cy="1043.06" r="3.3"/><circle cx="1188.77" cy="1032.24" r="3.3"/><circle cx="1192.32" cy="983.17" r="3.3"/><circle cx="1195.88" cy="949.26" r="3.3"/><circle cx="1199.43" cy="780.48" r="3.3"/><circle cx="1202.98" cy="602.54" r="3.3"/><circle cx="1206.54" cy="532.55" r="3.3"/><circle cx="1210.09" cy="459.38" r="3.3"/><circle cx="1213.65" cy="520.86" r="3.3"/><circle cx="1217.20" cy="583.49" r="3.3"/><circle cx="1220.76" cy="585.66" r="3.3"/><circle cx="1224.31" cy="703.42" r="3.3"/><circle cx="1227.87" cy="873.40" r="3.3"/><circle cx="1231.42" cy="970.48" r="3.3"/><circle cx="1234.98" cy="1043.06" r="3.3"/><circle cx="1274.08" cy="1008.14" r="3.3"/><circle cx="1277.63" cy="922.28" r="3.3"/><circle cx="1281.19" cy="780.27" r="3.3"/><circle cx="1284.74" cy="705.22" r="3.3"/><circle cx="1288.30" cy="609.26" r="3.3"/><circle cx="1291.85" cy="496.41" r="3.3"/><circle cx="1295.41" cy="480.39" r="3.3"/><circle cx="1298.96" cy="645.34" r="3.3"/><circle cx="1302.52" cy="681.41" r="3.3"/><circle cx="1306.07" cy="725.44" r="3.3"/><circle cx="1309.62" cy="712.45" r="3.3"/><circle cx="1313.18" cy="847.37" r="3.3"/><circle cx="1316.73" cy="972.35" r="3.3"/><circle cx="1320.29" cy="1041.33" r="3.3"/><circle cx="1359.39" cy="1007.27" r="3.3"/><circle cx="1362.95" cy="923.29" r="3.3"/><circle cx="1366.50" cy="835.25" r="3.3"/><circle cx="1370.05" cy="683.29" r="3.3"/><circle cx="1373.61" cy="566.41" r="3.3"/><circle cx="1377.16" cy="479.24" r="3.3"/><circle cx="1380.72" cy="422.38" r="3.3"/><circle cx="1384.27" cy="441.43" r="3.3"/><circle cx="1387.83" cy="474.18" r="3.3"/><circle cx="1391.38" cy="641.44" r="3.3"/><circle cx="1394.94" cy="734.53" r="3.3"/><circle cx="1398.49" cy="885.48" r="3.3"/><circle cx="1402.05" cy="974.52" r="3.3"/><circle cx="1405.60" cy="1041.33" r="3.3"/><circle cx="1444.70" cy="1009.44" r="3.3"/><circle cx="1448.26" cy="928.34" r="3.3"/><circle cx="1451.81" cy="830.20" r="3.3"/><circle cx="1455.37" cy="707.10" r="3.3"/><circle cx="1458.92" cy="608.25" r="3.3"/><circle cx="1462.48" cy="531.33" r="3.3"/><circle cx="1466.03" cy="448.35" r="3.3"/><circle cx="1469.59" cy="475.34" r="3.3"/><circle cx="1473.14" cy="516.46" r="3.3"/><circle cx="1476.70" cy="629.47" r="3.3"/><circle cx="1480.25" cy="763.39" r="3.3"/><circle cx="1483.80" cy="865.41" r="3.3"/><circle cx="1487.36" cy="969.47" r="3.3"/><circle cx="1490.91" cy="1039.45" r="3.3"/><circle cx="1530.02" cy="1037.29" r="3.3"/><circle cx="1533.57" cy="1016.36" r="3.3"/><circle cx="1537.12" cy="1019.54" r="3.3"/><circle cx="1540.68" cy="982.45" r="3.3"/><circle cx="1544.23" cy="851.41" r="3.3"/><circle cx="1547.79" cy="934.55" r="3.3"/><circle cx="1551.34" cy="888.66" r="3.3"/><circle cx="1554.90" cy="885.48" r="3.3"/><circle cx="1558.45" cy="389.19" r="3.3"/><circle cx="1562.01" cy="663.38" r="3.3"/><circle cx="1565.56" cy="743.62" r="3.3"/><circle cx="1569.12" cy="856.46" r="3.3"/><circle cx="1572.67" cy="972.35" r="3.3"/><circle cx="1576.23" cy="1041.33" r="3.3"/>
</g>
<path d="M229.0 1052.00h14M1594.0 1052.00h-14M229.0 891.50h14M1594.0 891.50h-14M229.0 731.00h14M1594.0 731.00h-14M229.0 570.50h14M1594.0 570.50h-14M229.0 410.00h14M1594.0 410.00h-14M229.0 249.50h14M1594.0 249.50h-14M229.0 89.00h14M1594.0 89.00h-14M229.00 1052.0v-14M229.00 89.0v14M570.25 1052.0v-14M570.25 89.0v14M911.50 1052.0v-14M911.50 89.0v14M1252.75 1052.0v-14M1252.75 89.0v14M1594.00 1052.0v-14M1594.00 89.0v14" stroke="#262626" stroke-width="1.8" fill="none"/>
<rect x="229.0" y="89.0" width="1365.0" height="963.0" fill="none" stroke="#0d0d0d" stroke-width="1.9"/>
<g font-family="Liberation Serif, serif" font-size="38.3" fill="#262626"><text x="214.3" y="1064.3" text-anchor="end" font-size="39.5">0</text><text x="214.3" y="903.8" text-anchor="end" font-size="39.5">50</text><text x="214.3" y="743.3" text-anchor="end" font-size="39.5">100</text><text x="214.3" y="582.8" text-anchor="end" font-size="39.5">150</text><text x="214.3" y="422.3" text-anchor="end" font-size="39.5">200</text><text x="214.3" y="261.8" text-anchor="end" font-size="39.5">250</text><text x="214.3" y="101.3" text-anchor="end" font-size="39.5">300</text><text x="229.30" y="1100" text-anchor="middle">28/Nov/22</text><text x="570.55" y="1100" text-anchor="middle">02/Dec/22</text><text x="911.80" y="1100" text-anchor="middle">06/Dec/22</text><text x="1253.05" y="1100" text-anchor="middle">10/Dec/22</text><text x="1594.30" y="1100" text-anchor="middle">14/Dec/22</text></g>
<text x="913.6" y="77" text-anchor="middle" font-family="Liberation Serif, serif" font-weight="bold" font-size="42" fill="#262626">KwinanaShelf</text>
<text transform="translate(135.2,574.5) rotate(-90)" text-anchor="middle" font-family="Liberation Serif, serif" font-size="41.8" fill="#262626">PAR (W/m2)</text>
<rect x="1705.7" y="88.9" width="489.4" height="138.8" fill="#ffffff" stroke="#262626" stroke-width="1.5"/><rect x="1718.6" y="102.2" width="124.4" height="19.7" fill="#b3d5ea"/><rect x="1718.6" y="137.8" width="124.4" height="20.1" fill="#ebf4fa"/><line x1="1718.6" y1="179.7" x2="1842.6" y2="179.7" stroke="#0b529c" stroke-width="2"/><circle cx="1780.5" cy="208.4" r="3.3" fill="#d4ff00" stroke="#0b529c" stroke-width="1.8"/><g font-family="Liberation Serif, serif" font-size="25" fill="#262626" style="white-space:pre"><text x="1856" y="119.8">csiem1.7&#160; -2023&#160; (Bot&#160; 25<tspan font-size="17" dy="-9">th</tspan><tspan dy="9">-75</tspan><tspan font-size="17" dy="-9">th</tspan><tspan dy="9">)</tspan></text><text x="1856" y="155.3">csiem1.7&#160; -2023&#160; (Bot&#160; 5<tspan font-size="17" dy="-9">th</tspan><tspan dy="9">-95</tspan><tspan font-size="17" dy="-9">th</tspan><tspan dy="9">)</tspan></text><text x="1853.4" y="186.9">csiem1.7 -2023 (Bot Median)</text><text x="1855.5" y="215">WAMSI-WWMSP2-MS9 (Bot)</text></g>
</svg></body></html>
